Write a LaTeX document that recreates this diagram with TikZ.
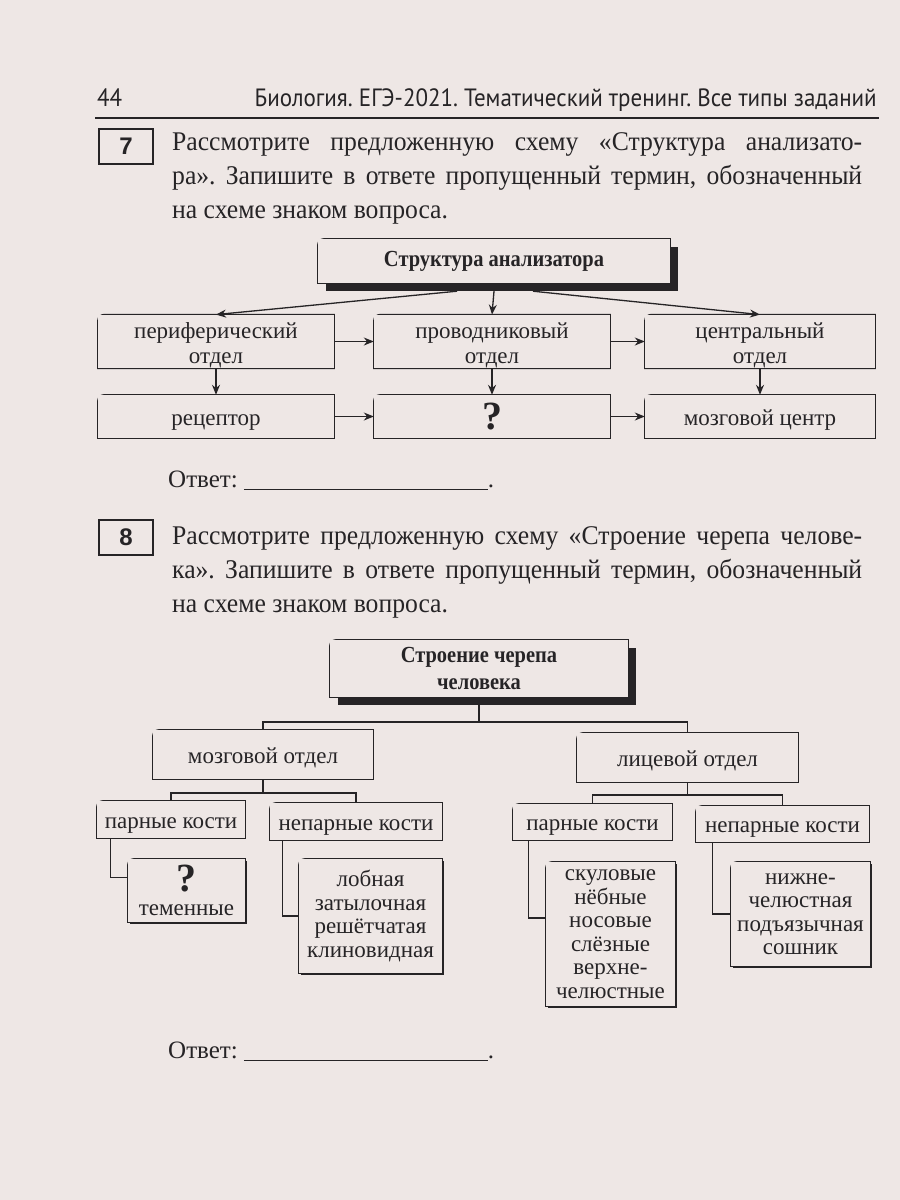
\documentclass[tikz,border=0pt]{standalone}
\usepackage{fontspec}
\setmainfont{Liberation Serif}
\newfontfamily\hdrfont[FakeStretch=0.92]{PT Sans}
\newfontfamily\numfont{Liberation Sans}
\newfontfamily\bodyfont[FakeStretch=0.95]{Liberation Serif}
\newfontfamily\headfont[FakeStretch=0.89]{Liberation Serif}
\usetikzlibrary{positioning,calc,shadows,arrows.meta}
\definecolor{paper}{RGB}{238,231,229}
\definecolor{ink}{RGB}{38,36,38}
\newcommand\ttlfont{\headfont\bfseries\fontsize{23}{27}\selectfont}
\newcommand\prtfont{\fontsize{23}{25}\selectfont}
\newcommand\bnsfont{\fontsize{23}{23.5}\selectfont}
\newcommand\fullline[1]{\makebox[690pt][s]{#1}}
\newcommand\lowstrut{\rule{0pt}{24pt}}
\frenchspacing
\tikzset{tlbox/.style={align=center,inner sep=0pt,fill=paper,text=ink,
    append after command={\pgfextra{\draw[ink,line width=1.3pt]
      (\tikzlastnode.south west) -- ([yshift=-6pt]\tikzlastnode.north west)
      arc[start angle=180,end angle=90,radius=6pt] -- (\tikzlastnode.north east)
      -- (\tikzlastnode.south east) -- cycle;}}},
  ttl/.style={tlbox,font=\ttlfont,general shadow={fill=ink,shadow xshift=8pt,shadow yshift=-8pt}},
  prt/.style={tlbox,font=\prtfont,execute at begin node={\rule{0pt}{22pt}}},
  bns/.style={tlbox,font=\bnsfont,general shadow={fill=ink,shadow xshift=2pt,shadow yshift=-2pt}},
  numbox/.style={draw=ink,text=ink,line width=1.3pt,minimum width=54pt,minimum height=35pt,inner sep=0pt,font=\numfont\bfseries\fontsize{24}{24}\selectfont},
  task/.style={text=ink,anchor=north west,align=left,inner sep=0pt,font=\bodyfont\fontsize{27}{34}\selectfont},
  answer/.style={text=ink,anchor=base west,inner sep=0pt,font=\fontsize{25}{30}\selectfont},
  link/.style={ink,line width=1.3pt}}

\begin{document}
\begin{tikzpicture}[x=1pt,y=-1pt,>={Stealth[length=10pt,width=8pt]}]
  \fill[paper] (0,0) rectangle (900,1200);
  \useasboundingbox (0,0) rectangle (900,1200);

  % page header
  \node[anchor=base west,inner sep=0pt,text=ink,font=\hdrfont\fontsize{25}{25}\selectfont] (pg) at (97,106) {44};
  \node[anchor=base east,inner sep=0pt,text=ink,font=\hdrfont\fontsize{25}{25}\selectfont] (hd) at (877,106) {Биология. ЕГЭ-2021. Тематический тренинг. Все типы заданий};
  \coordinate (rl) at (95,118);
  \coordinate (rr) at (879,118);
  \draw[ink,line width=1.8pt] (rl) -- (rr);

  % task 7
  \node[numbox] (n7) at (126,146.5) {7};
  \node[task] (q7) at (172,132) {\fullline{Рассмотрите предложенную схему «Структура анализато-}\\
    \fullline{ра». Запишите в ответе пропущенный термин, обозначенный}\\
    на схеме знаком вопроса.};

  % analyzer scheme
  \node[ttl,minimum width=352pt,minimum height=44pt] (an) at (494,261) {Структура анализатора};
  \node[prt,minimum width=236pt,minimum height=49pt] (per) at (216,341.5) {\lowstrut периферический\\отдел};
  \node[prt,minimum width=236pt,minimum height=49pt] (pro) at (492,341.5) {\lowstrut проводниковый\\отдел};
  \node[prt,minimum width=230pt,minimum height=49pt] (cen) at (760,341.5) {\lowstrut центральный\\отдел};
  \node[prt,minimum width=236pt,minimum height=43pt] (rec) at (216,416.5) {рецептор};
  \node[prt,minimum width=236pt,minimum height=43pt,font=\bfseries\fontsize{40}{40}\selectfont] (qq) at (492,416.5) {?};
  \node[prt,minimum width=230pt,minimum height=43pt] (mc) at (760,416.5) {мозговой центр};

  \draw[link,->] ([xshift=-37pt,yshift=-8pt]an.south) -- (per.north);
  \draw[link,->] ([yshift=-8pt]an.south) -- (pro.north);
  \draw[link,->] ([xshift=39pt,yshift=-8pt]an.south) -- (cen.north);
  \foreach \a/\b in {per/pro,pro/cen,rec/qq,qq/mc,per/rec,pro/qq,cen/mc}
    {\draw[link,->] (\a) -- (\b);}

  \node[answer] (a7) at (168,487) {Ответ:\hspace{6pt}\rule[-3pt]{244pt}{1.2pt}.};

  % task 8
  \node[numbox] (n8) at (126,537.5) {8};
  \node[task] (q8) at (172,526) {\fullline{Рассмотрите предложенную схему «Строение черепа челове-}\\
    \fullline{ка». Запишите в ответе пропущенный термин, обозначенный}\\
    на схеме знаком вопроса.};

  % skull scheme
  \node[ttl,minimum width=298pt,minimum height=57pt] (sk) at (479,668.5) {Строение черепа\\человека};
  \node[prt,minimum width=220pt,minimum height=49pt] (mz) at (263,754.5) {мозговой отдел};
  \node[prt,minimum width=221pt,minimum height=49pt] (lc) at (687.5,757.5) {лицевой отдел};
  \node[prt,minimum width=148pt,minimum height=37pt] (mp) at (171,819.5) {парные кости};
  \node[prt,minimum width=172pt,minimum height=37pt] (mn) at (356,821.5) {непарные кости};
  \node[prt,minimum width=159pt,minimum height=36pt] (lp) at (592.5,822) {парные кости};
  \node[prt,minimum width=173pt,minimum height=36pt] (ln) at (782.5,824) {непарные кости};
  \node[bns,minimum width=117pt,minimum height=63pt] (tm) at (186.5,890.5) {{\bfseries\fontsize{40}{32}\selectfont ?}\\теменные};
  \node[bns,minimum width=143pt,minimum height=114pt] (lb) at (370.5,916) {лобная\\затылочная\\решётчатая\\клиновидная};
  \node[bns,minimum width=129pt,minimum height=144pt] (sc) at (610.5,934) {скуловые\\нёбные\\носовые\\слёзные\\верхне-\\челюстные};
  \node[bns,minimum width=139pt,minimum height=104pt] (nz) at (800.5,914) {нижне-\\челюстная\\подъязычная\\сошник};

  \coordinate (b1) at (479,722);
  \coordinate (b2) at (263,793);
  \coordinate (b3) at (687.5,795);
  \draw[link] (sk.south) -- (b1);
  \draw[link] (mz.north) |- (b1) -| (lc.north);
  \draw[link] (mz.south) -- (b2);
  \draw[link] (mp.north) |- (b2) -| (mn.north);
  \draw[link] (lc.south) -- (b3);
  \draw[link] (lp.north) |- (b3) -| (ln.north);
  \draw[link] ([xshift=14pt]mp.south west) |- ([yshift=13pt]tm.west);
  \draw[link] ([xshift=13pt]mn.south west) |- (lb.west);
  \draw[link] ([xshift=16pt]lp.south west) |- ([yshift=16pt]sc.west);
  \draw[link] ([xshift=17pt]ln.south west) |- (nz.west);

  \node[answer] (a8) at (168,1058) {Ответ:\hspace{6pt}\rule[-3pt]{244pt}{1.2pt}.};
\end{tikzpicture}
\end{document}
